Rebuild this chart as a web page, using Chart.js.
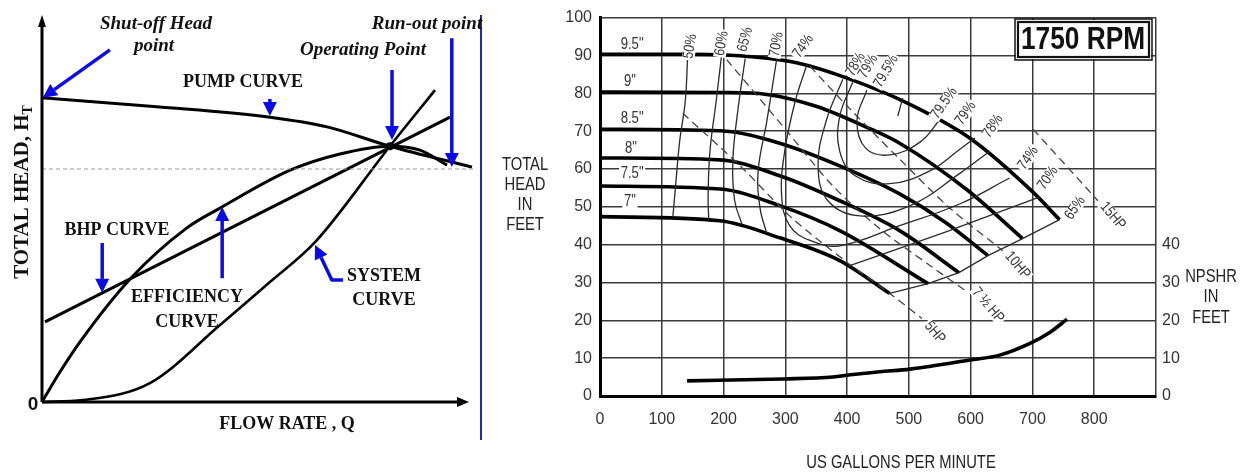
<!DOCTYPE html>
<html><head><meta charset="utf-8">
<script src="https://cdn.jsdelivr.net/npm/chart.js@4.4.1/dist/chart.umd.min.js"></script>
<style>
html,body{margin:0;padding:0;background:#fff;width:1252px;height:473px;overflow:hidden}
#L{position:absolute;left:0;top:0;width:490px;height:473px}
#R{position:absolute;left:490px;top:0;width:762px;height:473px}
canvas{display:block}
</style></head>
<body>
<div id="L"><canvas id="cl" width="490" height="473"></canvas></div>
<div id="R"><canvas id="cr" width="762" height="473"></canvas></div>
<script>
// ===== LEFT DIAGRAM (relative units 0-100) =====
const pumpQ=[0,26.7,53,66.3,80.9,100];
const pumpH=[78.6,76.3,73.6,71.1,66.1,60.7];
const bhpQ=[0.7,94.9];
const bhpH=[20.7,73.6];
const effQ=[0,4.2,8.8,20.5,33.7,41.4,57.7,69.3,80.9,87.9,94.2];
const effH=[0,7.8,15.5,31.8,45,50.1,59.9,64.1,66.1,65.1,61.2];
const sysQ=[0,9.5,25.1,41.4,53,63.5,80.9,91.4];
const sysH=[0,0.5,4.9,19.9,31,41.3,66.1,80.6];
const opQ=[80.9];
const opH=[66.1];
const runoutQ=[0,101];
const runoutH=[60.2,60.2];

// ===== RIGHT CHART: 1750 RPM =====
const gpmTicks=[0,100,200,300,400,500,600,700,800];
const headTicks=[0,10,20,30,40,50,60,70,80,90,100];
const npshTicks=[0,10,20,30,40];
// impeller curves (US gpm, ft)
const imp95Q=[0,150,250,320,400,500,600,700,744];
const imp95H=[90.3,90.3,89.6,88,84,77.2,68,54,46.6];
const imp90Q=[0,200,270,351,432,485,594,684];
const imp90H=[80.3,80.2,79.7,76.5,71,66.8,54.5,41.6];
const imp85Q=[0,194,291,388,485,560,628];
const imp85H=[70.5,70.1,66.8,60.8,53.4,45.8,37.1];
const imp80Q=[0,194,291,388,485,581];
const imp80H=[62.9,62.4,58.2,51.6,43.7,32.6];
const imp75Q=[0,194,291,388,531];
const imp75H=[55.5,54.7,50.3,43.7,29.7];
const imp70Q=[0,194,291,388,469];
const imp70H=[47.4,46.3,41.8,35.8,27.1];
const impLabels=['9.5"','9"','8.5"','8"','7.5"','7"'];
// efficiency contours
const e50Q=[142,138,129,123,118];      const e50H=[90.3,77.9,67.4,56.8,47.4];
const e60Q=[197,188,178,175,176];      const e60H=[90.3,77.9,64.7,53,46.5];
const e65Q=[235,223,215,218,230];      const e65H=[89.2,75.3,62.1,51.6,45.3];
const e70Q=[286,270,256,259,270];      const e70H=[89,72.6,59.5,49.7,42.9];
const e74Q=[335,316,299,294,307,340,388,485,583,663];
const e74H=[87.6,77.9,64.7,52.9,45,41.1,39.7,45,50.8,57.6];
const e78Q=[393,366,353,369,421,502,583,631];
const e78H=[83.7,72.6,60.8,51.6,47.6,50.3,58.9,64.7];
const e79Q=[409,388,388,413,469,534,583,607];
const e79H=[82.9,73.9,64.7,58.2,56.1,59.5,65.3,68.2];
const e795Q=[432,416,430,469,518,550];
const e795H=[80.8,72.9,65.5,63.7,67.1,73];
const e70rQ=[402,560,712];             const e70rH=[34.3,43.4,52.6];
const e65rQ=[469,531,581,628,684,744]; const e65rH=[27.1,29.7,32.6,37.1,41.6,46.6];
const bepQ=[490,482];                  const bepH=[78.7,74];
const effTopLabels=['50%','60%','65%','70%','74%','78%','79%','79.5%'];
const effTopQ=[146,197,235,286,329,414,434,463];
const effTopH=[92.4,93.2,94.2,92.9,92.4,87.6,87.1,85.8];
const effRightLabels=['79.5%','79%','78%','74%','70%','65%'];
const effRightQ=[557,592,636,693,725,769];
const effRightH=[77.4,74.7,71.3,62.9,57.6,49.7];
// horsepower lines
const hp5Q=[134,227,307,400,469,521];      const hp5H=[74.7,60.8,47.6,35.3,27.1,20.5];
const hp75Q=[205,296,377,453,534,591];     const hp75H=[88.9,71.3,55.5,44.2,34.5,27.9];
const hp10Q=[340,405,485,566,652];         const hp10H=[87.1,75.8,62.6,49.7,38.4];
const hp15Q=[701,806];                     const hp15H=[70.5,51.6];
const hpLabels=['5HP','7 ½ HP','10HP','15HP'];
const hpLabQ=[542,628,676,830];
const hpLabH=[16.8,24,34.5,47.6];
// NPSHR
const npshQ=[141,296,377,405,453,502,599,647,696,728,756];
const npshH=[4.0,4.5,5.0,5.6,6.4,7.1,9.5,10.8,13.9,16.8,20.3];

// ---------- helpers ----------
function hasFont(f){const c=document.createElement('canvas').getContext('2d');
  c.font='40px monospace';const a=c.measureText('TOTAL HEAD 1750 RPM').width;
  c.font='40px "'+f+'", monospace';return Math.abs(c.measureText('TOTAL HEAD 1750 RPM').width-a)>0.5;}
const NARROW=hasFont('Liberation Sans Narrow');
const SANS=NARROW?'"Liberation Sans Narrow"':'"Liberation Sans", Arial, sans-serif';
const COND=NARROW?1:0.82;
const SERIF='"Liberation Serif","Times New Roman",serif';
const pts=(xs,ys)=>xs.map((x,i)=>({x:x,y:ys[i]}));
function ds(xs,ys,o){return Object.assign({data:pts(xs,ys),borderColor:'#000',borderWidth:1.2,pointRadius:0,fill:false,tension:0.4,clip:false},o||{});}
function txt(ctx,s,x,y,o){o=o||{};ctx.save();ctx.translate(x,y);
  if(o.rot)ctx.rotate(o.rot*Math.PI/180);
  ctx.scale(o.cond||1,1);
  ctx.font=(o.italic?'italic ':'')+(o.bold?'bold ':'')+(o.size||16)+'px '+(o.family||SANS);
  ctx.textAlign=o.align||'center';ctx.textBaseline='middle';
  if(o.bg){const w=ctx.measureText(s).width;ctx.fillStyle='#fff';ctx.fillRect(-w/2-2,-(o.size||16)*0.42,w+4,(o.size||16)*0.84);}
  ctx.fillStyle=o.color||'#222';ctx.fillText(s,0,0);ctx.restore();}
function arrow(ctx,pp,color,w,hl,hw){ctx.save();ctx.strokeStyle=color;ctx.fillStyle=color;ctx.lineWidth=w;ctx.lineCap='butt';ctx.lineJoin='round';
  const n=pp.length;const [x1,y1]=pp[n-2],[x2,y2]=pp[n-1];const a=Math.atan2(y2-y1,x2-x1);
  const bx=x2-hl*Math.cos(a),by=y2-hl*Math.sin(a);
  ctx.beginPath();ctx.moveTo(pp[0][0],pp[0][1]);for(let i=1;i<n-1;i++)ctx.lineTo(pp[i][0],pp[i][1]);ctx.lineTo(bx,by);ctx.stroke();
  ctx.beginPath();ctx.moveTo(x2,y2);ctx.lineTo(bx+hw*Math.sin(a),by-hw*Math.cos(a));ctx.lineTo(bx-hw*Math.sin(a),by+hw*Math.cos(a));ctx.closePath();ctx.fill();ctx.restore();}

// ---------- LEFT CHART ----------
const arrowsL=[
  [[15.8,91],[0.2,78.6]],
  [[53,78.3],[53,73.9]],
  [[81.4,85.8],[81.4,67.7]],
  [[95.3,94],[95.3,60.7]],
  [[14,41.1],[14,28.2]],
  [[41.9,32],[41.9,50.4]],
  [[70,31.5],[67.4,31.5],[63.5,40.6]]
];
const leftDeco={id:'leftDeco',
  afterDatasetsDraw(ch){const ctx=ch.ctx,sx=ch.scales.x,sy=ch.scales.y;
    const P=(q,h)=>[sx.getPixelForValue(q),sy.getPixelForValue(h)];
    const o=P(0,0),top=P(0,100),right=P(99.3,0);
    arrow(ctx,[o,top],'#000',3,12,4);
    arrow(ctx,[o,right],'#000',3,12,5);
    arrowsL.forEach(a=>arrow(ctx,a.map(p=>P(p[0],p[1])),'#0b0be6',3.5,14,7));
    ctx.save();ctx.strokeStyle='#2626b4';ctx.lineWidth=2;ctx.beginPath();ctx.moveTo(481,15);ctx.lineTo(481,440);ctx.stroke();ctx.restore();
  },
  afterDraw(ch){const ctx=ch.ctx;
    const B={bold:true,family:SERIF,size:18,color:'#111'};
    const I={bold:true,italic:true,family:SERIF,size:19,color:'#111'};
    txt(ctx,'Shut-off Head',156,24,I);
    txt(ctx,'point',154,46,I);
    txt(ctx,'Run-out point',427,24,I);
    txt(ctx,'Operating Point',363,50,I);
    txt(ctx,'PUMP CURVE',243,82,B);
    txt(ctx,'BHP CURVE',117,230,B);
    txt(ctx,'EFFICIENCY',187,297,B);
    txt(ctx,'CURVE',187,322,B);
    txt(ctx,'SYSTEM',384,276,B);
    txt(ctx,'CURVE',384,300,B);
    txt(ctx,'FLOW RATE , Q',287,424,B);
    txt(ctx,'0',33,405,{bold:true,size:19,family:'"Liberation Sans",Arial',color:'#111'});
    ctx.save();ctx.translate(23,192);ctx.rotate(-Math.PI/2);
    ctx.font='bold 21px '+SERIF;ctx.textBaseline='middle';ctx.fillStyle='#111';
    const main='TOTAL HEAD, H';const w1=ctx.measureText(main).width;
    ctx.font='bold 14px '+SERIF;const w2=ctx.measureText('T').width;
    const st=-(w1+w2)/2;ctx.font='bold 21px '+SERIF;ctx.textAlign='left';ctx.fillText(main,st,0);
    ctx.font='bold 14px '+SERIF;ctx.fillText('T',st+w1,5);ctx.restore();
  }};
new Chart(document.getElementById('cl'),{type:'line',
  data:{datasets:[
    ds(runoutQ,runoutH,{borderColor:'#9a9a9a',borderWidth:1,borderDash:[4,3],tension:0}),
    ds(pumpQ,pumpH,{borderWidth:3,cubicInterpolationMode:'monotone'}),
    ds(bhpQ,bhpH,{borderWidth:3,tension:0}),
    ds(effQ,effH,{borderWidth:3,cubicInterpolationMode:'monotone'}),
    ds(sysQ,sysH,{borderWidth:2.6,cubicInterpolationMode:'monotone'}),
    ds(opQ,opH,{pointRadius:4,pointBackgroundColor:'#000',borderWidth:0,showLine:false})
  ]},
  options:{responsive:false,animation:false,devicePixelRatio:1,
    layout:{padding:{left:42,right:18,top:15,bottom:71}},
    plugins:{legend:{display:false},tooltip:{enabled:false}},
    scales:{x:{type:'linear',min:0,max:100,display:false},y:{min:0,max:100,display:false}}},
  plugins:[leftDeco]});

// ---------- RIGHT CHART ----------
const tickFont={family:SANS,size:NARROW?18:16};
const rightDeco={id:'rightDeco',
  afterDraw(ch){const ctx=ch.ctx,sx=ch.scales.x,sy=ch.scales.y;
    const P=(q,h)=>[sx.getPixelForValue(q),sy.getPixelForValue(h)];
    const base={size:18,cond:COND,color:'#222'};
    ['TOTAL','HEAD','IN','FEET'].forEach((s,i)=>txt(ctx,s,35,165+i*20,base));
    ['NPSHR','IN','FEET'].forEach((s,i)=>txt(ctx,s,721,277+i*20.5,base));
    txt(ctx,'US GALLONS PER MINUTE',411,463,base);
    ctx.save();ctx.fillStyle='#fff';ctx.fillRect(526,20,135,39);ctx.strokeStyle='#111';
    ctx.lineWidth=1.5;ctx.strokeRect(525,19,137,41);ctx.lineWidth=2.2;ctx.strokeRect(528,22,131,35);ctx.restore();
    txt(ctx,'1750 RPM',593,40,{size:32,bold:true,cond:COND,color:'#111'});
    const labQ=[52,48.5,52,50,52,48.5],labH=[92.9,83.2,73.4,65.5,58.7,51.3];
    impLabels.forEach((s,i)=>{const p=P(labQ[i],labH[i]);txt(ctx,s,p[0],p[1],{size:16,cond:COND,bg:true,color:'#333'});});
    const eo={size:15,cond:COND,bg:true,color:'#333'};
    const topRot=[-80,-80,-75,-80,-55,-60,-60,-60];
    effTopLabels.forEach((s,i)=>{const p=P(effTopQ[i],effTopH[i]);txt(ctx,s,p[0],p[1],Object.assign({rot:topRot[i]},eo));});
    effRightLabels.forEach((s,i)=>{const p=P(effRightQ[i],effRightH[i]);txt(ctx,s,p[0],p[1],Object.assign({rot:-55},eo));});
    hpLabels.forEach((s,i)=>{const p=P(hpLabQ[i],hpLabH[i]);txt(ctx,s,p[0],p[1],Object.assign({rot:50},eo));});
  }};
const IMP={borderColor:'#000',borderWidth:3.6,cubicInterpolationMode:'monotone'};
const EFF={borderColor:'#2a2a2a',borderWidth:1.3,tension:0.4};
const HP={borderColor:'#444',borderWidth:1.3,borderDash:[8,5],tension:0.3};
new Chart(document.getElementById('cr'),{type:'line',
  data:{datasets:[
    ds(e50Q,e50H,EFF),ds(e60Q,e60H,EFF),ds(e65Q,e65H,EFF),ds(e70Q,e70H,EFF),
    ds(e74Q,e74H,EFF),ds(e78Q,e78H,EFF),ds(e79Q,e79H,EFF),ds(e795Q,e795H,EFF),
    ds(e70rQ,e70rH,Object.assign({},EFF,{tension:0.2})),ds(e65rQ,e65rH,Object.assign({},EFF,{tension:0})),
    ds(bepQ,bepH,Object.assign({},EFF,{tension:0})),
    ds(hp5Q,hp5H,HP),ds(hp75Q,hp75H,HP),ds(hp10Q,hp10H,HP),ds(hp15Q,hp15H,Object.assign({},HP,{tension:0})),
    ds(imp95Q,imp95H,IMP),ds(imp90Q,imp90H,IMP),ds(imp85Q,imp85H,IMP),
    ds(imp80Q,imp80H,IMP),ds(imp75Q,imp75H,IMP),ds(imp70Q,imp70H,IMP),
    ds(npshQ,npshH,Object.assign({},IMP,{yAxisID:'y2'}))
  ]},
  options:{responsive:false,animation:false,devicePixelRatio:1,
    layout:{padding:{left:0,right:0,top:16,bottom:0}},
    plugins:{legend:{display:false},tooltip:{enabled:false}},
    scales:{
      x:{type:'linear',min:0,max:900,
        ticks:{stepSize:100,autoSkip:false,padding:14,color:'#333',font:tickFont,maxRotation:0,
          callback:v=>gpmTicks.includes(v)?String(v):''},
        grid:{color:'#3a3a3a',lineWidth:1.5,drawTicks:false},
        border:{display:true,color:'#000',width:3},
        afterFit:s=>{s.height=77;}},
      y:{type:'linear',position:'left',min:0,max:100,
        ticks:{stepSize:10,autoSkip:false,padding:8,color:'#333',font:tickFont,
          callback:v=>headTicks.includes(v)?String(v):''},
        grid:{color:'#3a3a3a',lineWidth:1.5,drawTicks:false},
        border:{display:true,color:'#000',width:3},
        afterFit:s=>{s.width=110;}},
      y2:{type:'linear',position:'right',min:0,max:100,
        ticks:{stepSize:10,autoSkip:false,padding:6,color:'#333',font:tickFont,
          callback:v=>npshTicks.includes(v)?String(v):''},
        grid:{drawOnChartArea:false,drawTicks:false},
        border:{display:false},
        afterFit:s=>{s.width=96;}}
    }},
  plugins:[rightDeco]});
</script>
</body></html>
